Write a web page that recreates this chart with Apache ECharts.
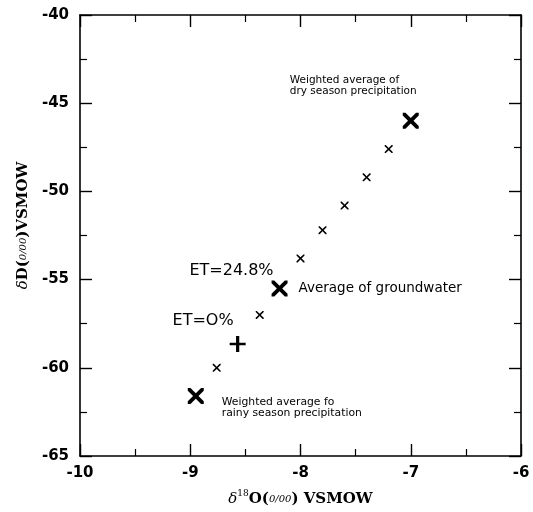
<!DOCTYPE html>
<html>
<head>
<meta charset="utf-8">
<script src="https://cdn.jsdelivr.net/npm/echarts@6/dist/echarts.min.js"></script>
<style>
html,body{margin:0;padding:0;background:#fff;}
#chart{width:533px;height:512px;}
</style>
</head>
<body>
<div id="chart"></div>
<script>
// ---- data ----
const xTicks = [-10, -9, -8, -7, -6];
const yTicks = [-65, -60, -55, -50, -45, -40];

const mixX = [-8.76, -8.37, -8.00, -7.80, -7.60, -7.40, -7.20];
const mixY = [-60.0, -57.0, -53.8, -52.2, -50.8, -49.2, -47.6];

const dryPrecip = [-7.00, -46.0];
const groundwater = [-8.19, -55.5];
const rainyPrecip = [-8.95, -61.6];
const etZero = [-8.57, -58.65];

const dryLabel = 'Weighted average of\ndry season precipitation';
const rainyLabel = 'Weighted average fo\nrainy season precipitation';
const gwLabel = 'Average of groundwater';
const etGwLabel = 'ET=24.8%';
const etZeroLabel = 'ET=O%';

// ---- symbols ----
const thinX = 'path://M0,0 L2.8,0 L10,7.2 L17.2,0 L20,0 L20,2.8 L12.8,10 L20,17.2 L20,20 L17.2,20 L10,12.8 L2.8,20 L0,20 L0,17.2 L7.2,10 L0,2.8 Z';
const boldX = 'path://M0,0 L3.4,0 L10,6.6 L16.6,0 L20,0 L20,3.4 L13.4,10 L20,16.6 L20,20 L16.6,20 L10,13.4 L3.4,20 L0,20 L0,16.6 L6.6,10 L0,3.4 Z';
const plus = 'path://M8,0 L12,0 L12,8.5 L20,8.5 L20,11.5 L12,11.5 L12,20 L8,20 L8,11.5 L0,11.5 L0,8.5 L8,8.5 Z';

const ink = '#000';
const titleRich = {
  d: {fontFamily: 'DejaVu Serif', fontStyle: 'italic', fontSize: 15, color: ink, lineHeight: 20},
  b: {fontFamily: 'DejaVu Serif', fontWeight: 'bold', fontSize: 15, color: ink, lineHeight: 20},
  sup: {fontFamily: 'DejaVu Serif', fontSize: 9, color: ink, verticalAlign: 'top', lineHeight: 12},
  pm: {fontFamily: 'DejaVu Serif', fontStyle: 'italic', fontSize: 10, color: ink, lineHeight: 20}
};

const axisCommon = {
  type: 'value',
  splitLine: {show: false},
  axisLine: {show: true, onZero: false, lineStyle: {color: '#000', width: 1.6}},
  axisTick: {show: true, inside: true, length: 12, lineStyle: {color: '#000', width: 1.4}},
  minorTick: {show: true, splitNumber: 2, length: 7, lineStyle: {color: '#000', width: 1.2}},
  minorSplitLine: {show: false}
};
const tickFont = {fontFamily: 'DejaVu Sans', fontWeight: 'bold', fontSize: 15, color: '#000'};
const markStyle = {color: ink, opacity: 1};

const xMin = xTicks[0], xMax = xTicks[xTicks.length - 1], xInt = xTicks[1] - xTicks[0];
const yMin = yTicks[0], yMax = yTicks[yTicks.length - 1], yInt = yTicks[1] - yTicks[0];

const chart = echarts.init(document.getElementById('chart'), null, {renderer: 'canvas'});
chart.setOption({
  animation: false,
  backgroundColor: '#fff',
  grid: {left: 80, right: 12, top: 15, bottom: 56},
  xAxis: [
    Object.assign({}, axisCommon, {
      position: 'bottom', min: xMin, max: xMax, interval: xInt,
      axisLabel: Object.assign({margin: 10}, tickFont),
      name: '{d|δ}{sup|18}{b|O(}{pm|0/00}{b|) VSMOW}',
      nameLocation: 'middle', nameGap: 33,
      nameTextStyle: {rich: titleRich}
    }),
    Object.assign({}, axisCommon, {
      position: 'top', min: xMin, max: xMax, interval: xInt,
      axisLabel: {show: false}
    })
  ],
  yAxis: [
    Object.assign({}, axisCommon, {
      position: 'left', min: yMin, max: yMax, interval: yInt,
      axisLabel: Object.assign({margin: 11}, tickFont),
      name: '{d|δ}{b|D(}{pm|0/00}{b|)VSMOW}',
      nameLocation: 'middle', nameGap: 36,
      nameTextStyle: {rich: titleRich, padding: [0, 0, 0, 20]}
    }),
    Object.assign({}, axisCommon, {
      position: 'right', min: yMin, max: yMax, interval: yInt,
      axisLabel: {show: false}
    })
  ],
  series: [
    {
      name: 'mixing', type: 'scatter',
      symbol: thinX, symbolSize: 8,
      itemStyle: markStyle,
      data: mixX.map((x, i) => [x, mixY[i]])
    },
    {
      name: 'dry', type: 'scatter',
      symbol: boldX, symbolSize: 16,
      itemStyle: markStyle,
      data: [dryPrecip],
      label: {
        show: true, formatter: dryLabel, position: 'inside',
        align: 'left', verticalAlign: 'middle', offset: [-121, -35],
        fontFamily: 'DejaVu Sans', fontSize: 10.5, lineHeight: 11.5, color: ink
      }
    },
    {
      name: 'rainy', type: 'scatter',
      symbol: boldX, symbolSize: 16,
      itemStyle: markStyle,
      data: [rainyPrecip],
      label: {
        show: true, formatter: rainyLabel, position: 'inside',
        align: 'left', verticalAlign: 'middle', offset: [26, 12],
        fontFamily: 'DejaVu Sans', fontSize: 10.8, lineHeight: 11, color: ink
      }
    },
    {
      name: 'groundwater', type: 'scatter',
      symbol: boldX, symbolSize: 16,
      itemStyle: markStyle,
      data: [groundwater],
      label: {
        show: true, formatter: gwLabel, position: 'inside',
        align: 'left', verticalAlign: 'middle', offset: [19, 0],
        fontFamily: 'DejaVu Sans', fontSize: 13.5, color: ink
      },
      markPoint: {
        symbol: 'circle', symbolSize: 1,
        itemStyle: {color: 'rgba(0,0,0,0)'},
        data: [{coord: groundwater, name: etGwLabel}],
        label: {
          show: true, formatter: '{b}', position: 'inside',
          align: 'right', verticalAlign: 'middle', offset: [-6, -18],
          fontFamily: 'DejaVu Sans', fontSize: 16, color: ink
        }
      }
    },
    {
      name: 'etZero', type: 'scatter',
      symbol: plus, symbolSize: 16,
      itemStyle: markStyle,
      data: [etZero],
      markPoint: {
        symbol: 'circle', symbolSize: 1,
        itemStyle: {color: 'rgba(0,0,0,0)'},
        data: [{coord: etZero, name: etZeroLabel}],
        label: {
          show: true, formatter: '{b}', position: 'inside',
          align: 'right', verticalAlign: 'middle', offset: [-4, -23],
          fontFamily: 'DejaVu Sans', fontSize: 16, color: ink
        }
      }
    }
  ]
});
</script>
</body>
</html>
